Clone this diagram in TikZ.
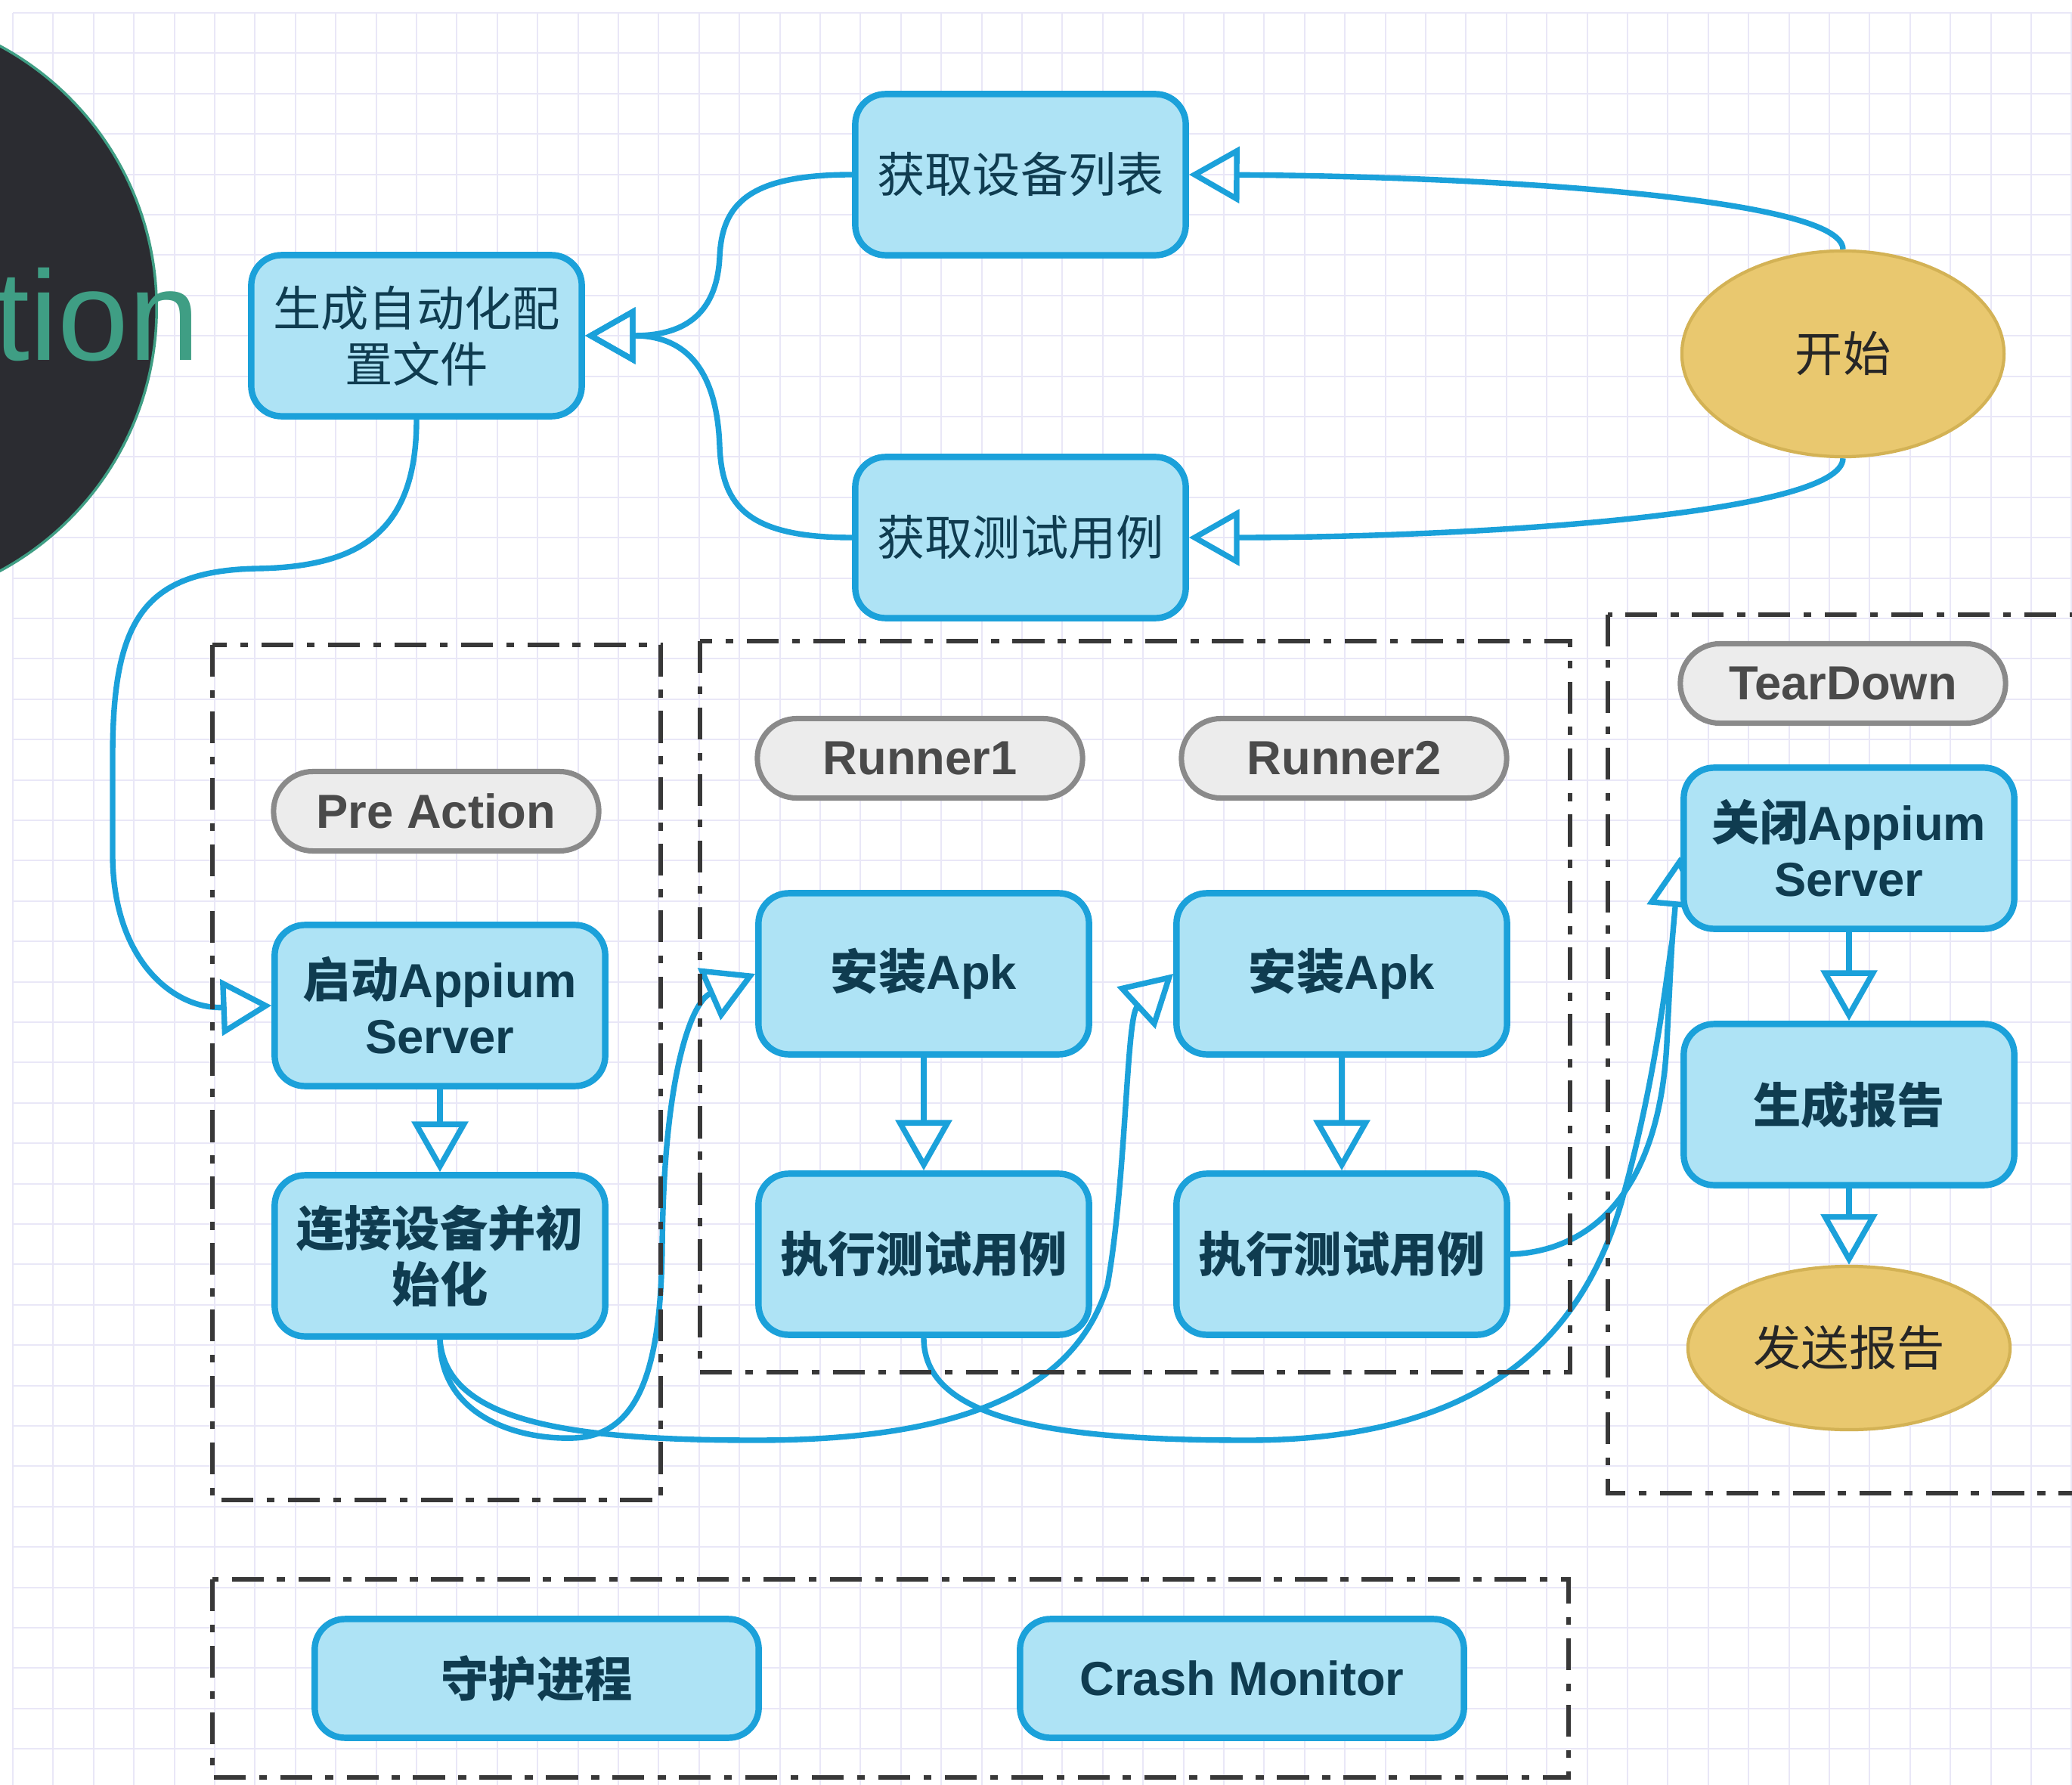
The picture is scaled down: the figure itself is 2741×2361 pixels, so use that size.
\documentclass[tikz,border=0pt]{standalone}
\usepackage{fontspec}
\setmainfont{Liberation Sans}
\newfontfamily\zh{Noto Sans CJK SC}
\usetikzlibrary{arrows.meta,shapes.geometric}

\definecolor{edgeblue}{HTML}{1BA1DA}
\definecolor{boxfill}{HTML}{AEE3F5}
\definecolor{boxtext}{HTML}{0F3C50}
\definecolor{pillfill}{HTML}{ECECEC}
\definecolor{pilldraw}{HTML}{8A8A8A}
\definecolor{pilltext}{HTML}{4A4A4A}
\definecolor{ovalfill}{HTML}{E9C86F}
\definecolor{ovaldraw}{HTML}{D3B255}
\definecolor{gridline}{HTML}{E9E7F7}
\definecolor{darkdisc}{HTML}{2B2C31}
\definecolor{discline}{HTML}{3F9E84}
\definecolor{grouprule}{HTML}{383838}

\pgfdeclarelayer{grid}
\pgfdeclarelayer{edges}
\pgfsetlayers{grid,edges,main}

\begin{document}
\begin{tikzpicture}[x=0.01cm,y=-0.01cm,
    box/.style={draw=edgeblue,fill=boxfill,line width=2.4pt,rounded corners=0.4cm,
      minimum width=4.37cm,minimum height=2.13cm,inner sep=0pt,align=center,
      text=boxtext,font=\fontsize{18}{21}\selectfont},
    boldbox/.style={box,font=\fontsize{18}{21}\selectfont\bfseries},
    widebox/.style={boldbox,minimum width=5.87cm,minimum height=1.57cm},
    tag/.style={draw=pilldraw,fill=pillfill,line width=2pt,rounded corners=0.52cm,
      minimum width=4.3cm,minimum height=1.05cm,inner sep=0pt,text=pilltext,
      font=\fontsize{18}{21}\selectfont\bfseries},
    oval/.style={ellipse,draw=ovaldraw,fill=ovalfill,line width=1.2pt,inner sep=0pt,
      minimum width=4.26cm,text=black!85,font=\zh\fontsize{18}{21}\selectfont},
    group/.style={draw=grouprule,line width=1.5pt,
      dash pattern=on 12pt off 5pt on 3pt off 5pt},
    link/.style={draw=edgeblue,line width=2.1pt},
    flow/.style={link,-{Triangle[open,length=19pt,width=21pt]}}]

  \useasboundingbox (0,0) rectangle (2741,2361);

  % grid paper
  \begin{pgfonlayer}{grid}
    \fill[white] (0,0) rectangle (2741,2361);
    \foreach \gx in {0,...,51}
      \draw[gridline,line width=0.6pt] ({17+53.4*\gx},17) -- ({17+53.4*\gx},2361);
    \foreach \gy in {0,...,44}
      \draw[gridline,line width=0.6pt] (17,{17+53.4*\gy}) -- (2741,{17+53.4*\gy});
  \end{pgfonlayer}

  % title disc, cut by the page edge
  \fill[darkdisc] (-187,408) circle (3.94cm);
  \draw[discline,line width=1pt] (-187,408) circle (3.94cm);
  \node[anchor=base east,inner sep=0pt,text=discline,
    font=\fontsize{48}{48}\selectfont] (title) at (265,477) {tion};

  % dashed groups
  \draw[group] (281,853) rectangle (874,1984);
  \draw[group] (926,848) rectangle (2077,1815);
  \draw[group] (2127,813) rectangle (2800,1975);
  \draw[group] (281,2089) rectangle (2075,2351);

  % top part
  \node[oval,minimum height=2.72cm] (start) at (2438,468) {开始};
  \node[box] (getdev) at (1350,231) {{\zh 获取设备列表}};
  \node[box] (getcase) at (1350,711) {{\zh 获取测试用例}};
  \node[box] (genconf) at (551,444) {{\zh 生成自动化配}\\{\zh 置文件}};

  % labels of the groups
  \node[tag] (pretag) at (577,1073) {Pre Action};
  \node[tag] (runtag1) at (1217,1003) {Runner1};
  \node[tag] (runtag2) at (1778,1003) {Runner2};
  \node[tag] (downtag) at (2438,904) {TearDown};

  % steps
  \node[boldbox] (startappium) at (582,1330) {{\zh 启动}Appium\\Server};
  \node[boldbox] (connect) at (582,1661) {{\zh 连接设备并初}\\{\zh 始化}};
  \node[boldbox] (install1) at (1222,1288) {{\zh 安装}Apk};
  \node[boldbox] (exec1) at (1222,1659) {{\zh 执行测试用例}};
  \node[boldbox] (install2) at (1775,1288) {{\zh 安装}Apk};
  \node[boldbox] (exec2) at (1775,1659) {{\zh 执行测试用例}};
  \node[boldbox] (closeappium) at (2446,1122) {{\zh 关闭}Appium\\Server};
  \node[boldbox] (genreport) at (2446,1461) {{\zh 生成报告}};
  \node[oval,minimum height=2.16cm] (sendreport) at (2446,1783) {发送报告};

  % bottom group
  \node[widebox] (daemon) at (710,2220) {{\zh 守护进程}};
  \node[widebox] (crash) at (1643,2220) {Crash Monitor};

  \coordinate (merge) at (2212,1245);
  \coordinate (tearend) at (2222,1133);

  % connectors
  \begin{pgfonlayer}{edges}
    \draw[flow] (start.north) .. controls (2438,260) and (1950,233) .. (getdev.east);
    \draw[flow] (start.south) .. controls (2438,680) and (1950,711) .. (getcase.east);
    \draw[flow] (getdev.west) .. controls (990,231) and (955,270) .. (952,340)
      .. controls (948,420) and (900,444) .. (genconf.east);
    \draw[flow] (getcase.west) .. controls (990,711) and (955,670) .. (952,590)
      .. controls (948,480) and (900,444) .. (genconf.east);
    \draw[flow] (genconf.south) .. controls (551,700) and (480,750) .. (340,752)
      .. controls (190,755) and (149,820) .. (149,1000) -- (149,1130)
      .. controls (149,1270) and (230,1335) .. (startappium.west);
    \draw[flow] (startappium.south) -- (connect.north);
    \draw[flow] (connect.south) .. controls (582,1870) and (680,1905) .. (760,1902)
      .. controls (850,1898) and (874,1800) .. (876,1650)
      .. controls (878,1420) and (915,1325) .. (install1.west);
    \draw[flow] (connect.south) .. controls (590,1880) and (750,1905) .. (1000,1905)
      .. controls (1250,1905) and (1420,1850) .. (1465,1700)
      .. controls (1490,1560) and (1490,1345) .. (install2.west);
    \draw[flow] (install1.south) -- (exec1.north);
    \draw[flow] (install2.south) -- (exec2.north);
    \draw[flow] (exec1.south) .. controls (1222,1880) and (1400,1905) .. (1650,1905)
      .. controls (1950,1905) and (2090,1780) .. (2145,1590)
      .. controls (2190,1430) and (2203,1300) .. (merge) -- (tearend);
    \draw[link] (exec2.east) .. controls (2110,1655) and (2195,1570) .. (2205,1380)
      .. controls (2208,1320) and (2210,1280) .. (merge);
    \draw[flow] (closeappium.south) -- (genreport.north);
    \draw[flow] (genreport.south) -- (sendreport.north);
  \end{pgfonlayer}
\end{tikzpicture}
\end{document}
